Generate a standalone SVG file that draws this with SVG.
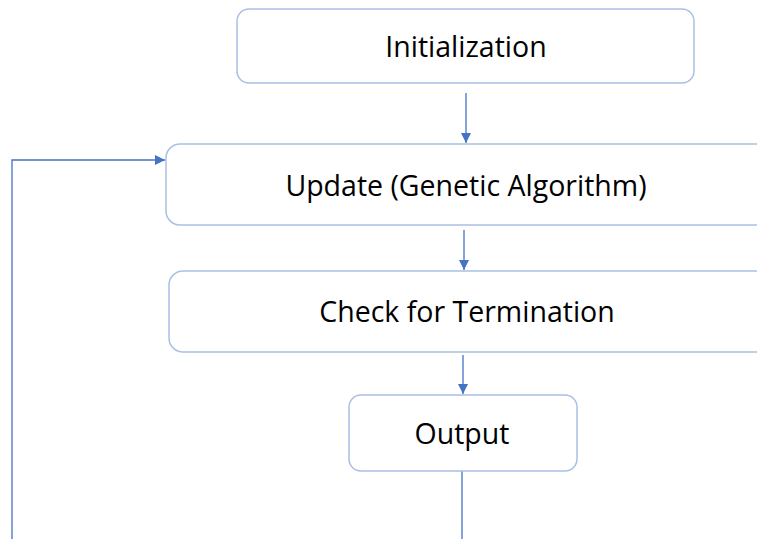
<svg xmlns="http://www.w3.org/2000/svg" width="757" height="539" viewBox="0 0 757 539">
<style>
.box{fill:#ffffff;stroke:#a9c0e6;stroke-width:1.5}
.lbl{font-family:"Open Sans","Liberation Sans",sans-serif;font-size:28.5px;fill:#000;text-anchor:middle;dominant-baseline:central}
.con{fill:none;stroke:#4472c4;stroke-width:1.3}
</style>
<defs>
<marker id="ah" viewBox="0 0 10 10" refX="10" refY="5" markerWidth="10" markerHeight="10" markerUnits="userSpaceOnUse" orient="auto">
<path d="M0,0 L10,5 L0,10 Z" fill="#4472c4"/>
</marker>
</defs>
<rect width="757" height="539" fill="#ffffff"/>
<g id="connectors">
<line class="con" x1="466" y1="93" x2="466" y2="143" marker-end="url(#ah)"/>
<line class="con" x1="464" y1="230" x2="464" y2="270" marker-end="url(#ah)"/>
<line class="con" x1="463" y1="355" x2="463" y2="394" marker-end="url(#ah)"/>
<line class="con" x1="462" y1="471" x2="462" y2="539"/>
<polyline class="con" points="12,539 12,160 165,160" marker-end="url(#ah)" stroke="#8eaadb"/>
</g>
<g id="init">
<rect class="box" x="237" y="9" width="457" height="74" rx="12"/>
<text class="lbl" x="466" y="46">Initialization</text>
</g>
<g id="update">
<rect class="box" x="166" y="144" width="640" height="81" rx="14"/>
<text class="lbl" x="466" y="185">Update (Genetic Algorithm)</text>
</g>
<g id="check">
<rect class="box" x="169" y="271" width="640" height="81" rx="14"/>
<text class="lbl" x="467" y="311">Check for Termination</text>
</g>
<g id="output">
<rect class="box" x="349" y="395" width="228" height="76" rx="12"/>
<text class="lbl" x="462" y="433">Output</text>
</g>
</svg>
